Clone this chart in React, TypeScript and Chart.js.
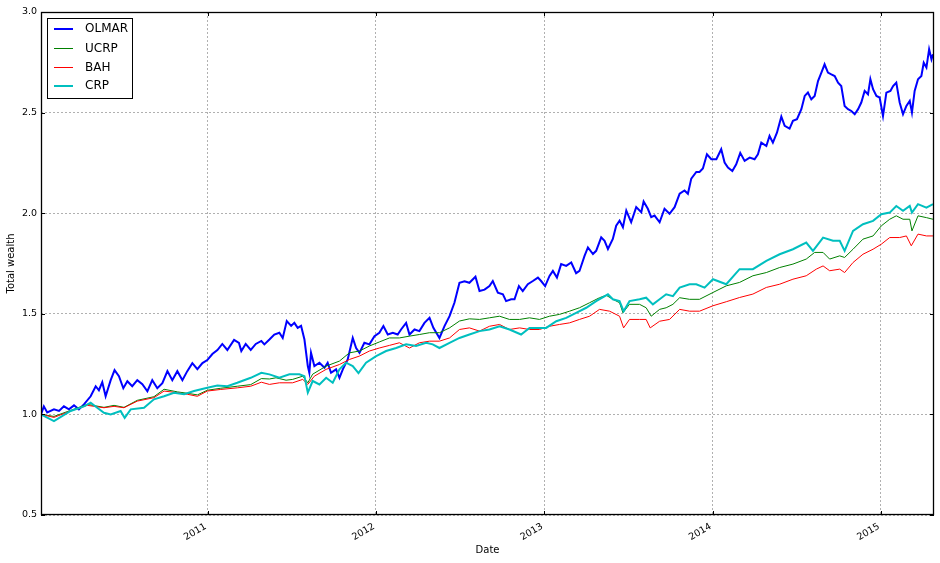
import { useEffect, useRef } from "react";
import { Chart, registerables } from "chart.js";

Chart.register(...registerables);

// ---- Data (dates as decimal years) ----
const seriesLabels = ["OLMAR", "UCRP", "BAH", "CRP"];
const yearTicks = [2011, 2012, 2013, 2014, 2015];
const wealthTicks = [0.5, 1.0, 1.5, 2.0, 2.5, 3.0];

const olmarDates = [
  2010.010, 2010.027, 2010.047, 2010.087, 2010.117, 2010.146, 2010.176, 2010.206, 2010.235, 2010.265,
  2010.305, 2010.335, 2010.354, 2010.374, 2010.394, 2010.424, 2010.447, 2010.473, 2010.499, 2010.523,
  2010.552, 2010.582, 2010.612, 2010.642, 2010.671, 2010.701, 2010.731, 2010.761, 2010.790, 2010.820,
  2010.850, 2010.879, 2010.909, 2010.939, 2010.969, 2010.998, 2011.028, 2011.058, 2011.087, 2011.117,
  2011.157, 2011.186, 2011.200, 2011.226, 2011.256, 2011.286, 2011.319, 2011.337, 2011.367, 2011.396,
  2011.426, 2011.446, 2011.470, 2011.496, 2011.515, 2011.535, 2011.555, 2011.575, 2011.595, 2011.604,
  2011.614, 2011.634, 2011.664, 2011.694, 2011.713, 2011.733, 2011.763, 2011.783, 2011.803, 2011.832,
  2011.862, 2011.882, 2011.902, 2011.931, 2011.961, 2011.991, 2012.020, 2012.044, 2012.070, 2012.100,
  2012.129, 2012.149, 2012.179, 2012.199, 2012.229, 2012.258, 2012.288, 2012.318, 2012.341, 2012.377,
  2012.407, 2012.437, 2012.466, 2012.496, 2012.526, 2012.555, 2012.591, 2012.615, 2012.645, 2012.674,
  2012.694, 2012.724, 2012.754, 2012.773, 2012.803, 2012.823, 2012.849, 2012.872, 2012.902, 2012.932,
  2012.962, 2012.981, 2013.005, 2013.031, 2013.051, 2013.075, 2013.100, 2013.130, 2013.160, 2013.189,
  2013.209, 2013.239, 2013.259, 2013.289, 2013.308, 2013.338, 2013.358, 2013.378, 2013.407, 2013.427,
  2013.447, 2013.467, 2013.487, 2013.516, 2013.546, 2013.576, 2013.590, 2013.615, 2013.635, 2013.655,
  2013.685, 2013.714, 2013.744, 2013.774, 2013.804, 2013.833, 2013.853, 2013.873, 2013.903, 2013.922,
  2013.942, 2013.966, 2013.992, 2014.022, 2014.051, 2014.071, 2014.091, 2014.117, 2014.140, 2014.164,
  2014.190, 2014.220, 2014.249, 2014.269, 2014.289, 2014.319, 2014.338, 2014.358, 2014.382, 2014.408,
  2014.428, 2014.457, 2014.477, 2014.501, 2014.527, 2014.547, 2014.566, 2014.586, 2014.606, 2014.626,
  2014.646, 2014.665, 2014.685, 2014.705, 2014.725, 2014.745, 2014.764, 2014.784, 2014.804, 2014.824,
  2014.844, 2014.864, 2014.883, 2014.903, 2014.923, 2014.937, 2014.953, 2014.973, 2014.992, 2015.012,
  2015.032, 2015.056, 2015.072, 2015.091, 2015.111, 2015.131, 2015.151, 2015.171, 2015.184, 2015.200,
  2015.220, 2015.240, 2015.254, 2015.270, 2015.286, 2015.300, 2015.309,
];
const olmarValues = [
  1.000, 1.040, 1.010, 1.025, 1.017, 1.040, 1.025, 1.045, 1.025, 1.050,
  1.090, 1.140, 1.120, 1.160, 1.090, 1.170, 1.220, 1.190, 1.130, 1.165,
  1.140, 1.170, 1.150, 1.115, 1.170, 1.130, 1.155, 1.215, 1.170, 1.215,
  1.170, 1.215, 1.255, 1.225, 1.255, 1.270, 1.300, 1.320, 1.350, 1.320,
  1.370, 1.355, 1.315, 1.350, 1.320, 1.350, 1.365, 1.348, 1.372, 1.397,
  1.406, 1.380, 1.464, 1.440, 1.455, 1.430, 1.440, 1.372, 1.240, 1.207,
  1.306, 1.240, 1.257, 1.232, 1.257, 1.207, 1.224, 1.182, 1.224, 1.273,
  1.380, 1.330, 1.306, 1.356, 1.348, 1.389, 1.406, 1.439, 1.397, 1.406,
  1.397, 1.422, 1.455, 1.397, 1.422, 1.414, 1.455, 1.480, 1.430, 1.380,
  1.439, 1.488, 1.555, 1.654, 1.662, 1.654, 1.684, 1.613, 1.620, 1.638,
  1.663, 1.605, 1.597, 1.563, 1.572, 1.572, 1.638, 1.613, 1.647, 1.663,
  1.680, 1.663, 1.638, 1.688, 1.713, 1.680, 1.747, 1.738, 1.755, 1.702,
  1.713, 1.788, 1.830, 1.797, 1.813, 1.880, 1.863, 1.822, 1.872, 1.938,
  1.963, 1.930, 2.013, 1.955, 2.030, 2.005, 2.058, 2.022, 1.980, 1.988,
  1.955, 2.022, 1.997, 2.030, 2.097, 2.113, 2.097, 2.172, 2.205, 2.205,
  2.222, 2.293, 2.268, 2.268, 2.318, 2.252, 2.227, 2.210, 2.243, 2.300,
  2.260, 2.276, 2.268, 2.293, 2.351, 2.334, 2.384, 2.351, 2.400, 2.480,
  2.434, 2.420, 2.459, 2.467, 2.517, 2.583, 2.600, 2.566, 2.583, 2.657,
  2.699, 2.740, 2.699, 2.690, 2.682, 2.649, 2.632, 2.533, 2.517, 2.508,
  2.492, 2.517, 2.550, 2.608, 2.591, 2.666, 2.616, 2.583, 2.575, 2.483,
  2.599, 2.608, 2.632, 2.649, 2.550, 2.492, 2.533, 2.558, 2.500, 2.608,
  2.666, 2.682, 2.748, 2.724, 2.815, 2.765, 2.790,
];

const ucrpDates = [
  2010.010, 2010.087, 2010.186, 2010.285, 2010.384, 2010.444, 2010.503, 2010.582, 2010.681, 2010.741,
  2010.820, 2010.879, 2010.939, 2010.998, 2011.078, 2011.176, 2011.256, 2011.319, 2011.367, 2011.406,
  2011.466, 2011.505, 2011.565, 2011.595, 2011.624, 2011.704, 2011.783, 2011.842, 2011.902, 2011.961,
  2012.020, 2012.080, 2012.139, 2012.199, 2012.258, 2012.318, 2012.377, 2012.437, 2012.496, 2012.555,
  2012.615, 2012.674, 2012.734, 2012.793, 2012.853, 2012.912, 2012.971, 2013.031, 2013.090, 2013.150,
  2013.209, 2013.269, 2013.328, 2013.368, 2013.407, 2013.447, 2013.467, 2013.506, 2013.566, 2013.605,
  2013.635, 2013.685, 2013.724, 2013.764, 2013.804, 2013.863, 2013.922, 2014.002, 2014.081, 2014.160,
  2014.239, 2014.319, 2014.398, 2014.477, 2014.556, 2014.606, 2014.656, 2014.695, 2014.755, 2014.784,
  2014.834, 2014.893, 2014.953, 2015.002, 2015.052, 2015.091, 2015.131, 2015.171, 2015.184, 2015.220,
  2015.270, 2015.309,
];
const ucrpValues = [
  1.000, 0.990, 1.020, 1.050, 1.035, 1.045, 1.035, 1.070, 1.088, 1.125,
  1.112, 1.105, 1.097, 1.120, 1.130, 1.140, 1.148, 1.178, 1.176, 1.182,
  1.170, 1.174, 1.190, 1.157, 1.200, 1.240, 1.265, 1.306, 1.315, 1.340,
  1.360, 1.380, 1.380, 1.389, 1.397, 1.406, 1.406, 1.430, 1.464, 1.475,
  1.472, 1.480, 1.488, 1.472, 1.472, 1.480, 1.472, 1.488, 1.497, 1.513,
  1.530, 1.555, 1.580, 1.592, 1.572, 1.555, 1.505, 1.547, 1.547, 1.530,
  1.488, 1.522, 1.530, 1.547, 1.580, 1.572, 1.572, 1.606, 1.639, 1.656,
  1.689, 1.705, 1.730, 1.747, 1.772, 1.805, 1.805, 1.772, 1.788, 1.780,
  1.821, 1.871, 1.887, 1.937, 1.970, 1.987, 1.970, 1.970, 1.912, 1.987,
  1.978, 1.970,
];

const bahDates = [
  2010.010, 2010.087, 2010.186, 2010.285, 2010.384, 2010.444, 2010.503, 2010.582, 2010.681, 2010.741,
  2010.820, 2010.879, 2010.939, 2010.998, 2011.078, 2011.176, 2011.256, 2011.319, 2011.367, 2011.426,
  2011.505, 2011.565, 2011.595, 2011.634, 2011.704, 2011.783, 2011.842, 2011.902, 2011.961, 2012.020,
  2012.080, 2012.139, 2012.199, 2012.258, 2012.318, 2012.377, 2012.437, 2012.496, 2012.555, 2012.615,
  2012.674, 2012.734, 2012.793, 2012.853, 2012.912, 2012.971, 2013.031, 2013.090, 2013.150, 2013.209,
  2013.269, 2013.328, 2013.388, 2013.447, 2013.471, 2013.506, 2013.566, 2013.605, 2013.629, 2013.685,
  2013.744, 2013.804, 2013.863, 2013.922, 2014.002, 2014.081, 2014.160, 2014.239, 2014.319, 2014.398,
  2014.477, 2014.556, 2014.616, 2014.656, 2014.695, 2014.755, 2014.784, 2014.834, 2014.893, 2014.953,
  2015.002, 2015.052, 2015.111, 2015.151, 2015.180, 2015.220, 2015.270, 2015.309,
];
const bahValues = [
  1.000, 0.985, 1.017, 1.045, 1.033, 1.040, 1.033, 1.066, 1.083, 1.116,
  1.108, 1.100, 1.090, 1.116, 1.124, 1.132, 1.140, 1.160, 1.149, 1.157,
  1.157, 1.174, 1.149, 1.190, 1.224, 1.248, 1.273, 1.290, 1.315, 1.330,
  1.343, 1.356, 1.330, 1.356, 1.364, 1.364, 1.380, 1.422, 1.430, 1.414,
  1.438, 1.447, 1.422, 1.430, 1.422, 1.422, 1.438, 1.447, 1.455, 1.472,
  1.488, 1.522, 1.513, 1.488, 1.430, 1.472, 1.472, 1.472, 1.430, 1.463,
  1.472, 1.522, 1.513, 1.513, 1.540, 1.560, 1.581, 1.598, 1.631, 1.647,
  1.672, 1.689, 1.722, 1.738, 1.714, 1.722, 1.705, 1.755, 1.796, 1.821,
  1.846, 1.879, 1.879, 1.887, 1.838, 1.896, 1.887, 1.887,
];

const crpDates = [
  2010.010, 2010.087, 2010.186, 2010.265, 2010.305, 2010.344, 2010.384, 2010.424, 2010.483, 2010.507,
  2010.543, 2010.622, 2010.681, 2010.741, 2010.800, 2010.860, 2010.919, 2010.998, 2011.058, 2011.117,
  2011.176, 2011.256, 2011.319, 2011.367, 2011.426, 2011.486, 2011.545, 2011.575, 2011.595, 2011.624,
  2011.664, 2011.704, 2011.743, 2011.783, 2011.822, 2011.862, 2011.896, 2011.941, 2012.001, 2012.060,
  2012.120, 2012.179, 2012.238, 2012.298, 2012.337, 2012.377, 2012.437, 2012.496, 2012.555, 2012.615,
  2012.674, 2012.734, 2012.793, 2012.862, 2012.912, 2012.971, 2013.011, 2013.071, 2013.130, 2013.189,
  2013.249, 2013.308, 2013.378, 2013.407, 2013.447, 2013.471, 2013.506, 2013.566, 2013.605, 2013.645,
  2013.685, 2013.724, 2013.764, 2013.804, 2013.863, 2013.903, 2013.952, 2014.002, 2014.081, 2014.160,
  2014.239, 2014.319, 2014.398, 2014.477, 2014.556, 2014.596, 2014.656, 2014.715, 2014.755, 2014.784,
  2014.834, 2014.893, 2014.953, 2015.002, 2015.052, 2015.091, 2015.131, 2015.171, 2015.184, 2015.220,
  2015.270, 2015.309,
];
const crpValues = [
  1.000, 0.967, 1.017, 1.040, 1.058, 1.033, 1.008, 1.000, 1.017, 0.983,
  1.025, 1.033, 1.075, 1.090, 1.107, 1.100, 1.116, 1.132, 1.144, 1.140,
  1.157, 1.182, 1.207, 1.199, 1.182, 1.199, 1.199, 1.190, 1.108, 1.166,
  1.149, 1.182, 1.157, 1.224, 1.257, 1.240, 1.205, 1.257, 1.290, 1.315,
  1.330, 1.348, 1.340, 1.356, 1.348, 1.330, 1.356, 1.380, 1.397, 1.414,
  1.422, 1.438, 1.422, 1.397, 1.430, 1.430, 1.430, 1.463, 1.480, 1.505,
  1.530, 1.563, 1.597, 1.572, 1.563, 1.513, 1.563, 1.572, 1.580, 1.547,
  1.572, 1.597, 1.588, 1.630, 1.647, 1.647, 1.630, 1.672, 1.647, 1.722,
  1.722, 1.763, 1.796, 1.821, 1.854, 1.813, 1.879, 1.863, 1.863, 1.813,
  1.912, 1.945, 1.962, 1.995, 2.003, 2.036, 2.012, 2.036, 2.003, 2.045,
  2.028, 2.045,
];

const seriesDates = [olmarDates, ucrpDates, bahDates, crpDates];
const seriesValues = [olmarValues, ucrpValues, bahValues, crpValues];
const seriesColors = ["#0000ff", "#008000", "#ff0000", "#00bfbf"];
const seriesWidths = [2, 1, 1, 2];

const FONT = '"DejaVu Sans", "Bitstream Vera Sans", sans-serif';

const framePlugin = {
  id: "mplFrame",
  afterDatasetsDraw(chart: any) {
    const { ctx, chartArea: a, scales } = chart;
    ctx.save();
    ctx.strokeStyle = "#000";
    ctx.lineWidth = 1;
    ctx.beginPath();
    for (const v of wealthTicks) {
      const y = Math.round(scales.y.getPixelForValue(v)) + 0.5;
      ctx.moveTo(a.left, y);
      ctx.lineTo(a.left + 4, y);
      ctx.moveTo(a.right, y);
      ctx.lineTo(a.right - 4, y);
    }
    for (const v of yearTicks) {
      const x = Math.round(scales.x.getPixelForValue(v)) + 0.5;
      ctx.moveTo(x, a.bottom);
      ctx.lineTo(x, a.bottom - 4);
      ctx.moveTo(x, a.top);
      ctx.lineTo(x, a.top + 4);
    }
    ctx.stroke();
    ctx.lineWidth = 1.3;
    ctx.strokeRect(a.left + 0.5, a.top + 0.5, a.right - a.left - 1, a.bottom - a.top - 1);
    ctx.restore();
  },
  afterDraw(chart: any) {
    const { ctx, chartArea: a } = chart;
    const x0 = a.left + 6.5;
    const y0 = a.top + 6.5;
    ctx.save();
    ctx.fillStyle = "#ffffff";
    ctx.fillRect(x0, y0, 85, 80);
    ctx.strokeStyle = "#000";
    ctx.lineWidth = 1;
    ctx.strokeRect(x0, y0, 85, 80);
    chart.data.datasets.forEach((ds: any, i: number) => {
      const cy = Math.round(y0 + 10.5 + i * 19) + (ds.borderWidth % 2 ? 0.5 : 0);
      ctx.strokeStyle = ds.borderColor;
      ctx.lineWidth = ds.borderWidth;
      ctx.beginPath();
      ctx.moveTo(x0 + 6.5, cy);
      ctx.lineTo(x0 + 25.5, cy);
      ctx.stroke();
      ctx.fillStyle = "#000";
      ctx.font = `12px ${FONT}`;
      ctx.textBaseline = "middle";
      ctx.textAlign = "left";
      ctx.fillText(ds.label, x0 + 37.5, cy);
    });
    ctx.restore();
  },
};

export default function App() {
  const canvasRef = useRef<HTMLCanvasElement | null>(null);

  useEffect(() => {
    document.body.style.margin = "0";
    const canvas = canvasRef.current;
    if (!canvas) return;
    const datasets = seriesLabels.map((label, i) => ({
      label,
      data: seriesDates[i].map((d, k) => ({ x: d, y: seriesValues[i][k] })),
      borderColor: seriesColors[i],
      backgroundColor: seriesColors[i],
      borderWidth: seriesWidths[i],
      pointRadius: 0,
      tension: 0,
      fill: false,
      order: seriesLabels.length - i,
    }));
    const gridOpts = {
      color: "#b0b0b0",
      lineWidth: 1,
      drawTicks: false,
    };
    const chart = new Chart(canvas, {
      type: "line",
      data: { datasets },
      plugins: [framePlugin],
      options: {
        animation: false,
        responsive: false,
        devicePixelRatio: 1,
        layout: { padding: { top: 12, right: 6, left: 0, bottom: 0 } },
        plugins: { legend: { display: false }, tooltip: { enabled: false } },
        scales: {
          x: {
            type: "linear",
            min: 2010.01,
            max: 2015.315,
            afterBuildTicks: (s: any) => {
              s.ticks = yearTicks.map((v) => ({ value: v }));
            },
            afterFit: (s: any) => {
              s.height = 48;
            },
            grid: gridOpts as any,
            border: { display: false, dash: [2, 2] },
            ticks: {
              autoSkip: false,
              minRotation: 30,
              maxRotation: 30,
              padding: 6,
              labelOffset: -2,
              color: "#000",
              font: { family: FONT, size: 9.5 },
              callback: (v: any) => String(v),
            },
            title: {
              display: true,
              text: "Date",
              color: "#000",
              font: { family: FONT, size: 10 },
              padding: { top: 0, bottom: 7 },
            },
          },
          y: {
            type: "linear",
            min: 0.5,
            max: 3.0,
            afterBuildTicks: (s: any) => {
              s.ticks = wealthTicks.map((v) => ({ value: v }));
            },
            afterFit: (s: any) => {
              s.width = 41;
            },
            grid: gridOpts as any,
            border: { display: false, dash: [2, 2] },
            ticks: {
              padding: 4,
              color: "#000",
              font: { family: FONT, size: 9.5 },
              callback: (v: any) => Number(v).toFixed(1),
            },
            title: {
              display: true,
              text: "Total wealth",
              color: "#000",
              font: { family: FONT, size: 10 },
              padding: { top: 5, bottom: 0 },
            },
          },
        },
      },
    });
    return () => chart.destroy();
  }, []);

  return (
    <div style={{ width: 940, height: 563 }}>
      <canvas ref={canvasRef} width={940} height={563} style={{ display: "block" }} />
    </div>
  );
}
